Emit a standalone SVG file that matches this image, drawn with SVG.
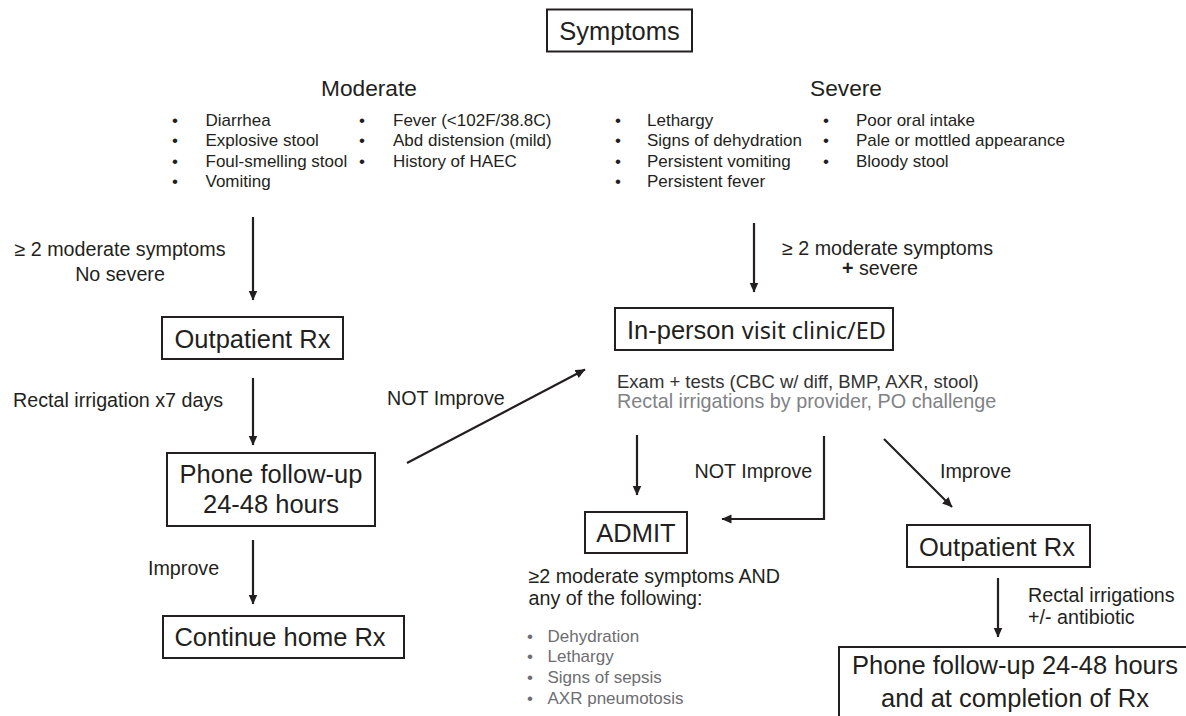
<svg xmlns="http://www.w3.org/2000/svg" width="1186" height="716" viewBox="0 0 1186 716">
<defs>
<style>
text{font-family:"Liberation Sans",Arial,sans-serif;fill:#231f20}
.box{fill:#fff;stroke:#231f20;stroke-width:2}
.big{font-size:25.5px}
.head{font-size:22.7px}
.lbl{font-size:19.7px}
.bul{font-size:17px}
.grey{fill:#6d6e71}
.mid{text-anchor:middle}
.con{fill:none;stroke:#231f20;stroke-width:2.2}
</style>
<marker id="ah" markerUnits="userSpaceOnUse" markerWidth="11" markerHeight="10" refX="9.5" refY="4.5" orient="auto">
<path d="M0,0 L10,4.5 L0,9 Z" fill="#231f20"/>
</marker>
</defs>
<rect width="1186" height="716" fill="#fff"/>

<g id="symptoms">
<rect class="box" x="547" y="9.5" width="145" height="42"/>
<text class="big mid" x="619.5" y="39.5">Symptoms</text>
</g>

<g id="moderate">
<text class="head mid" x="369" y="96">Moderate</text>
<g class="bul">
<text class="bul mid" x="175" y="126">•</text><text class="bul" x="205.5" y="126">Diarrhea</text>
<text class="bul mid" x="175" y="146">•</text><text class="bul" x="205.5" y="146">Explosive stool</text>
<text class="bul mid" x="175" y="167">•</text><text class="bul" x="205.5" y="167">Foul-smelling stool</text>
<text class="bul mid" x="175" y="187">•</text><text class="bul" x="205.5" y="187">Vomiting</text>
<text class="bul mid" x="362" y="126">•</text><text class="bul" x="393" y="126">Fever (&lt;102F/38.8C)</text>
<text class="bul mid" x="362" y="146">•</text><text class="bul" x="393" y="146">Abd distension (mild)</text>
<text class="bul mid" x="362" y="167">•</text><text class="bul" x="393" y="167">History of HAEC</text>
</g>
</g>

<g id="severe">
<text class="head mid" x="846" y="96">Severe</text>
<text class="bul mid" x="618" y="126">•</text><text class="bul" x="647" y="126">Lethargy</text>
<text class="bul mid" x="618" y="146">•</text><text class="bul" x="647" y="146">Signs of dehydration</text>
<text class="bul mid" x="618" y="167">•</text><text class="bul" x="647" y="167">Persistent vomiting</text>
<text class="bul mid" x="618" y="187">•</text><text class="bul" x="647" y="187">Persistent fever</text>
<text class="bul mid" x="826" y="126">•</text><text class="bul" x="856" y="126">Poor oral intake</text>
<text class="bul mid" x="826" y="146">•</text><text class="bul" x="856" y="146">Pale or mottled appearance</text>
<text class="bul mid" x="826" y="167">•</text><text class="bul" x="856" y="167">Bloody stool</text>
</g>

<g id="outpatient-left">
<rect class="box" x="162" y="317" width="181" height="42"/>
<text class="big mid" x="252.5" y="348">Outpatient Rx</text>
</g>

<g id="phone-left">
<rect class="box" x="167" y="453" width="208" height="73"/>
<text class="big mid" x="271" y="483">Phone follow-up</text>
<text class="big mid" x="271" y="513">24-48 hours</text>
</g>

<g id="continue-home">
<rect class="box" x="163" y="616" width="241" height="42"/>
<text class="big mid" x="280" y="646">Continue home Rx</text>
</g>

<g id="in-person">
<rect class="box" x="615" y="308" width="278" height="42"/>
<text class="big" x="627" y="338.5">In-person <tspan style="font-family:'Noto Sans','Open Sans',sans-serif;font-size:23.5px">visit clinic/ED</tspan></text>
<text x="617" y="388" style="font-size:18.5px;fill:#333">Exam + tests (CBC w/ diff, BMP, AXR, stool)</text>
<text x="617" y="408" style="font-size:19.8px;fill:#808285">Rectal irrigations by provider, PO challenge</text>
</g>

<g id="admit">
<rect class="box" x="585" y="512" width="102" height="41"/>
<text class="big mid" x="636" y="542">ADMIT</text>
<text class="lbl" x="528.5" y="583">≥2 moderate symptoms AND</text>
<text class="lbl" x="528.5" y="605">any of the following:</text>
<text class="bul mid grey" x="530" y="642">•</text><text class="bul grey" x="547.5" y="642">Dehydration</text>
<text class="bul mid grey" x="530" y="662">•</text><text class="bul grey" x="547.5" y="662">Lethargy</text>
<text class="bul mid grey" x="530" y="683">•</text><text class="bul grey" x="547.5" y="683">Signs of sepsis</text>
<text class="bul mid grey" x="530" y="703.5">•</text><text class="bul grey" x="547.5" y="703.5">AXR pneumotosis</text>
</g>

<g id="outpatient-right">
<rect class="box" x="907" y="525" width="183" height="42"/>
<text class="big mid" x="997" y="556">Outpatient Rx</text>
</g>

<g id="phone-right">
<rect class="box" x="839" y="647" width="360" height="90"/>
<text class="big mid" x="1015" y="674">Phone follow-up 24-48 hours</text>
<text class="big mid" x="1015" y="707">and at completion of Rx</text>
</g>

<g id="connectors">
<line class="con" x1="253" y1="217" x2="253" y2="300" marker-end="url(#ah)"/>
<line class="con" x1="253" y1="378" x2="253" y2="445" marker-end="url(#ah)"/>
<line class="con" x1="253" y1="540" x2="253" y2="604" marker-end="url(#ah)"/>
<line class="con" x1="407" y1="463" x2="585" y2="369.5" marker-end="url(#ah)"/>
<line class="con" x1="754" y1="223" x2="754" y2="292" marker-end="url(#ah)"/>
<line class="con" x1="637" y1="435" x2="637" y2="495" marker-end="url(#ah)"/>
<path class="con" d="M824,436 V519 H722" stroke-width="2.6" marker-end="url(#ah)"/>
<line class="con" x1="884" y1="439" x2="952" y2="507" marker-end="url(#ah)"/>
<line class="con" x1="998" y1="578" x2="998" y2="637" marker-end="url(#ah)"/>
<text class="lbl mid" x="120" y="256">≥ 2 moderate symptoms</text>
<text class="lbl mid" x="120" y="281">No severe</text>
<text class="lbl" x="13" y="407">Rectal irrigation x7 days</text>
<text class="lbl" x="148" y="575">Improve</text>
<text class="lbl" x="387" y="405">NOT Improve</text>
<text class="lbl" x="782" y="255">≥ 2 moderate symptoms</text>
<text class="lbl" x="842" y="275"><tspan font-weight="bold">+</tspan> severe</text>
<text class="lbl" x="694.5" y="478">NOT Improve</text>
<text class="lbl" x="940" y="478">Improve</text>
<text class="lbl" x="1028" y="602">Rectal irrigations</text>
<text class="lbl" x="1028" y="623.5">+/- antibiotic</text>
</g>
</svg>
